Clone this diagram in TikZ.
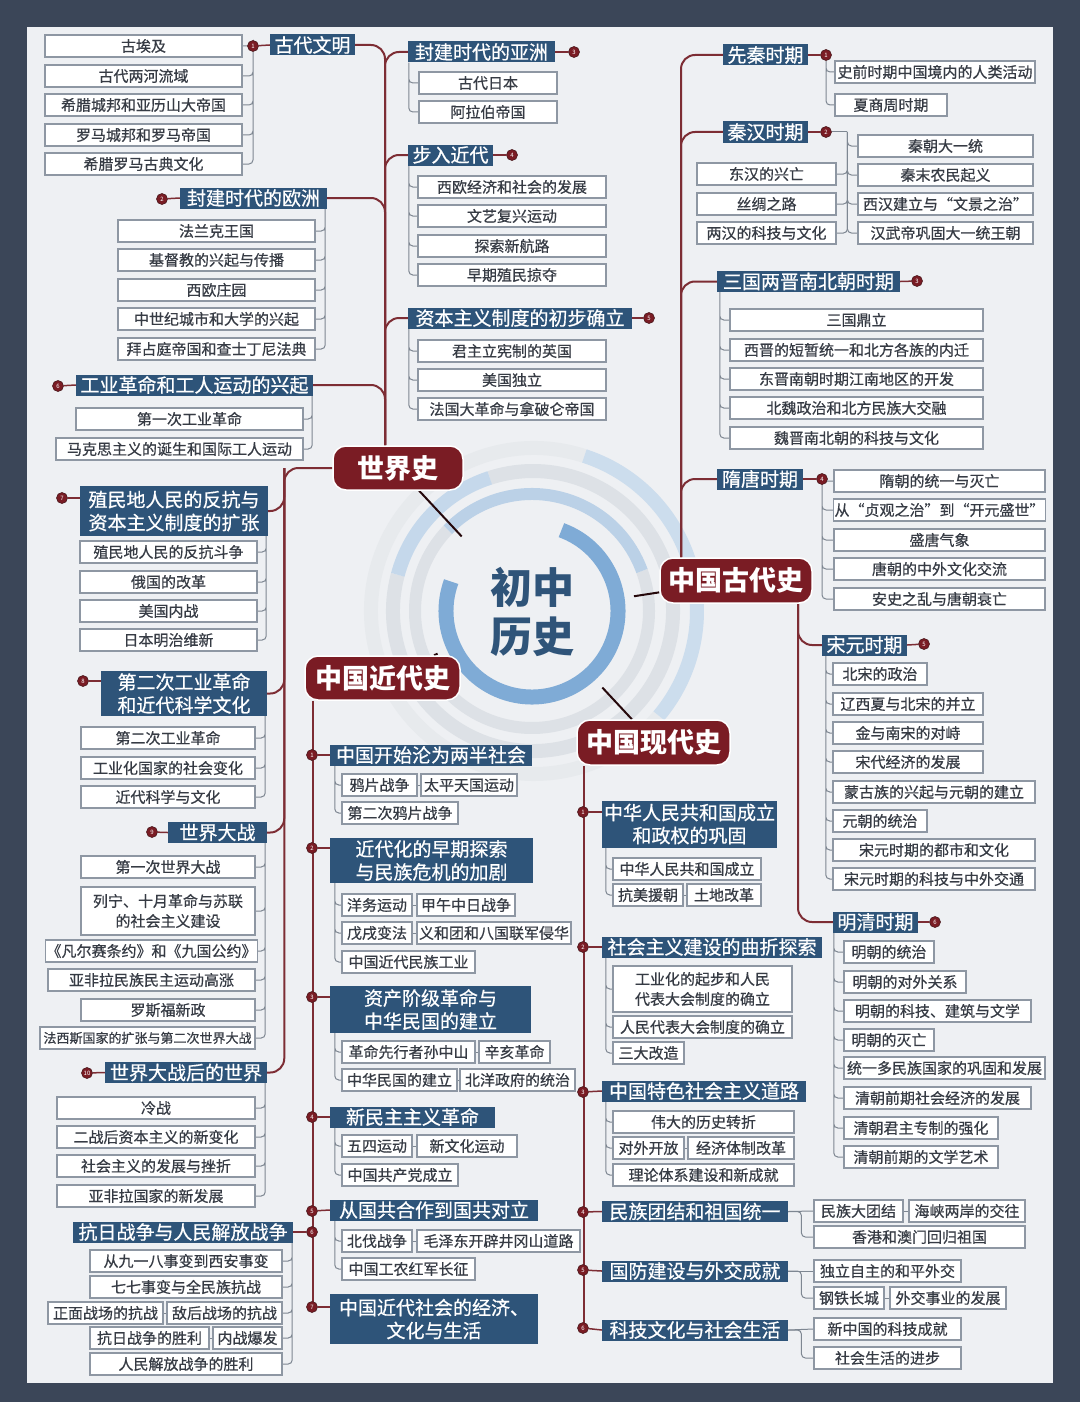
\documentclass[tikz,border=0pt]{standalone}
\usepackage{fontspec}
\setmainfont{Noto Sans CJK SC}
\newfontfamily\medium{Noto Sans CJK SC}[FakeBold=0.6]
\definecolor{slate}{HTML}{3B4658}
\definecolor{paper}{HTML}{EEF0F3}
\definecolor{hdrblue}{HTML}{2E5479}
\definecolor{leafline}{HTML}{8E97A3}
\definecolor{leaftext}{HTML}{363B44}
\definecolor{topicred}{HTML}{7A1C24}
\definecolor{trunkred}{HTML}{7D2D34}
\definecolor{twiggray}{HTML}{7E8792}
\definecolor{coreblue}{HTML}{2F5479}
\definecolor{ringblue}{HTML}{7FABD6}
\definecolor{ringpale}{HTML}{BBD1E7}
\definecolor{ringgray}{HTML}{DDE1E6}
\pgfdeclarelayer{paperlayer}
\pgfdeclarelayer{links}
\pgfsetlayers{paperlayer,links,main}
\tikzset{
  leaf/.style={draw=leafline, fill=white, text=leaftext, line width=1.2pt, inner xsep=1pt, inner ysep=1pt,
    minimum height=22pt, align=center, font=\medium\fontsize{15}{20}\selectfont},
  head/.style={fill=hdrblue, text=white, inner xsep=2pt, inner ysep=1pt, minimum height=21pt,
    align=center, font=\medium\fontsize{19}{23}\selectfont},
  topic/.style={fill=topicred, draw=white, line width=1.5pt, rounded corners=13pt, text=white,
    minimum height=44pt, font=\fontsize{27}{30}\selectfont\bfseries},
  core/.style={circle, minimum size=206pt, inner sep=0pt, align=center, text=coreblue,
    font=\fontsize{42}{49}\selectfont\bfseries},
  num/.style={circle, fill=topicred, draw=trunkred!60!black, line width=0.6pt, inner sep=0pt,
    minimum size=11pt, text=white, font=\fontsize{6}{6}\selectfont},
  trunk/.style={draw=trunkred, line width=2pt, rounded corners=14pt},
  tie/.style={draw=trunkred, line width=1.5pt},
  twig/.style={draw=twiggray, line width=1pt, rounded corners=4pt},
  stem/.style={draw=black!70!topicred, line width=2pt}
}
\begin{document}
\begin{tikzpicture}[x=1pt,y=-1pt]
\useasboundingbox (0,0) rectangle (1080,1402);

\begin{pgfonlayer}{paperlayer}
\fill[slate] (0,0) rectangle (1080,1402);
\fill[paper] (27,27) rectangle (1053,1383);
% rings round the centre
\draw[line width=14pt, ringgray!70!white] (534,611) ++(72:163pt) arc[start angle=72, end angle=320, radius=163pt];
\draw[line width=14pt, ringpale!75!white] (534,611) ++(-40:163pt) arc[start angle=-40, end angle=72, radius=163pt];
\draw[line width=14pt, ringgray] (533,611) ++(165:140pt) arc[start angle=165, end angle=468, radius=140pt];
\draw[line width=14pt, ringpale!85!white] (533,611) ++(108:140pt) arc[start angle=108, end angle=165, radius=140pt];
\draw[line width=12pt, ringgray] (532,611) ++(136:117pt) arc[start angle=136, end angle=380, radius=117pt];
\draw[line width=12pt, ringpale] (532,611) ++(20:117pt) arc[start angle=20, end angle=136, radius=117pt];
\draw[line width=15pt, ringblue] (532,611) ++(160:86pt) arc[start angle=160, end angle=430, radius=86pt];
\end{pgfonlayer}

\node[core] (core) at (532,612) {初中\\历史};

% world history
\node[topic, minimum width=130pt] (ws) at (398,468) {世界史};

\node[head, minimum width=85pt] (w1) at (312.5,45) {古代文明};
\node[num] (w1n) at (253,46) {1};
\node[leaf, minimum width=197pt] (w1a) at (143.5,46) {古埃及};
\node[leaf, minimum width=197pt] (w1b) at (143.5,76) {古代两河流域};
\node[leaf, minimum width=197pt] (w1c) at (143.5,105) {希腊城邦和亚历山大帝国};
\node[leaf, minimum width=197pt] (w1d) at (143.5,135) {罗马城邦和罗马帝国};
\node[leaf, minimum width=197pt] (w1e) at (143.5,164) {希腊罗马古典文化};

\node[head, minimum width=147pt] (w2) at (253.5,198) {封建时代的欧洲};
\node[num] (w2n) at (162,199) {2};
\node[leaf, minimum width=197pt] (w2a) at (216.5,231) {法兰克王国};
\node[leaf, minimum width=197pt] (w2b) at (216.5,260) {基督教的兴起与传播};
\node[leaf, minimum width=197pt] (w2c) at (216.5,290) {西欧庄园};
\node[leaf, minimum width=197pt] (w2d) at (216.5,319) {中世纪城市和大学的兴起};
\node[leaf, minimum width=197pt] (w2e) at (216.5,349) {拜占庭帝国和查士丁尼法典};

\node[head, minimum width=147pt] (w3) at (481.5,52) {封建时代的亚洲};
\node[num] (w3n) at (574,52) {3};
\node[leaf, minimum width=138pt] (w3a) at (488,83) {古代日本};
\node[leaf, minimum width=138pt] (w3b) at (488,112) {阿拉伯帝国};

\node[head, minimum width=85pt] (w4) at (450.5,155) {步入近代};
\node[num] (w4n) at (512,155) {4};
\node[leaf, minimum width=188pt] (w4a) at (512,187) {西欧经济和社会的发展};
\node[leaf, minimum width=188pt] (w4b) at (512,216) {文艺复兴运动};
\node[leaf, minimum width=188pt] (w4c) at (512,246) {探索新航路};
\node[leaf, minimum width=188pt] (w4d) at (512,275) {早期殖民掠夺};

\node[head, minimum width=224pt] (w5) at (520,318) {资本主义制度的初步确立};
\node[num] (w5n) at (649,318) {5};
\node[leaf, minimum width=188pt] (w5a) at (512,351) {君主立宪制的英国};
\node[leaf, minimum width=188pt] (w5b) at (512,380) {美国独立};
\node[leaf, minimum width=188pt] (w5c) at (512,409) {法国大革命与拿破仑帝国};

\node[head, minimum width=237pt] (w6) at (194.5,385) {工业革命和工人运动的兴起};
\node[num] (w6n) at (58,386) {6};
\node[leaf, minimum width=227pt] (w6a) at (189.5,419) {第一次工业革命};
\node[leaf, minimum width=247pt] (w6b) at (179.5,449) {马克思主义的诞生和国际工人运动};

\node[head, minimum width=188pt, minimum height=50pt] (w7) at (174,511) {殖民地人民的反抗与\\资本主义制度的扩张};
\node[num] (w7n) at (62,498) {7};
\node[leaf, minimum width=177pt] (w7a) at (168.5,552) {殖民地人民的反抗斗争};
\node[leaf, minimum width=177pt] (w7b) at (168.5,582) {俄国的改革};
\node[leaf, minimum width=177pt] (w7c) at (168.5,611) {美国内战};
\node[leaf, minimum width=177pt] (w7d) at (168.5,640) {日本明治维新};

\node[head, minimum width=166pt, minimum height=45pt] (w8) at (184,693.5) {第二次工业革命\\和近代科学文化};
\node[num] (w8n) at (83,681) {8};
\node[leaf, minimum width=174pt] (w8a) at (168,738) {第二次工业革命};
\node[leaf, minimum width=174pt] (w8b) at (168,768) {工业化国家的社会变化};
\node[leaf, minimum width=174pt] (w8c) at (168,797) {近代科学与文化};

\node[head, minimum width=99pt] (w9) at (217.5,832.5) {世界大战};
\node[num] (w9n) at (152,832) {9};
\node[leaf, minimum width=174pt] (w9a) at (168,867) {第一次世界大战};
\node[leaf, minimum width=174pt, minimum height=48pt] (w9b) at (168,911) {列宁、十月革命与苏联\\的社会主义建设};
\node[leaf, minimum width=207pt] (w9c) at (151.5,951) {《凡尔赛条约》和《九国公约》};
\node[leaf, minimum width=207pt] (w9d) at (151.5,980) {亚非拉民族民主运动高涨};
\node[leaf, minimum width=174pt] (w9e) at (168,1010) {罗斯福新政};
\node[leaf, minimum width=215pt, font=\medium\fontsize{13}{15}\selectfont] (w9f) at (147.5,1038) {法西斯国家的扩张与第二次世界大战};

\node[head, minimum width=162pt] (w10) at (186,1072.5) {世界大战后的世界};
\node[num] (w10n) at (87,1073) {10};
\node[leaf, minimum width=198pt] (w10a) at (156,1108) {冷战};
\node[leaf, minimum width=198pt] (w10b) at (156,1137) {二战后资本主义的新变化};
\node[leaf, minimum width=198pt] (w10c) at (156,1166) {社会主义的发展与挫折};
\node[leaf, minimum width=198pt] (w10d) at (156,1196) {亚非拉国家的新发展};

% chinese ancient history
\node[topic, minimum width=152pt, minimum height=45pt] (ca) at (736,580.5) {中国古代史};

\node[head, minimum width=85pt] (a1) at (765.5,55) {先秦时期};
\node[num] (a1n) at (826,55) {1};
\node[leaf, minimum width=200pt] (a1a) at (935,72) {史前时期中国境内的人类活动};
\node[leaf, minimum width=112pt] (a1b) at (891,105) {夏商周时期};

\node[head, minimum width=85pt] (a2) at (765.5,132) {秦汉时期};
\node[num] (a2n) at (826,132) {2};
\node[leaf, minimum width=175pt] (a2a) at (945.5,146) {秦朝大一统};
\node[leaf, minimum width=175pt] (a2b) at (945.5,175) {秦末农民起义};
\node[leaf, minimum width=175pt] (a2c) at (945.5,204) {西汉建立与“文景之治”};
\node[leaf, minimum width=175pt] (a2d) at (945.5,233) {汉武帝巩固大一统王朝};
\node[leaf, minimum width=139pt] (a2e) at (766.5,174) {东汉的兴亡};
\node[leaf, minimum width=139pt] (a2f) at (766.5,204) {丝绸之路};
\node[leaf, minimum width=139pt] (a2g) at (766.5,233) {两汉的科技与文化};

\node[head, minimum width=183pt] (a3) at (808.5,281.5) {三国两晋南北朝时期};
\node[num] (a3n) at (917,281) {3};
\node[leaf, minimum width=253pt] (a3a) at (856.5,320) {三国鼎立};
\node[leaf, minimum width=253pt] (a3b) at (856.5,350) {西晋的短暂统一和北方各族的内迁};
\node[leaf, minimum width=253pt] (a3c) at (856.5,379) {东晋南朝时期江南地区的开发};
\node[leaf, minimum width=253pt] (a3d) at (856.5,408) {北魏政治和北方民族大交融};
\node[leaf, minimum width=253pt] (a3e) at (856.5,438) {魏晋南北朝的科技与文化};

\node[head, minimum width=86pt] (a4) at (760,479) {隋唐时期};
\node[num] (a4n) at (822,479) {4};
\node[leaf, minimum width=211pt] (a4a) at (939.5,481) {隋朝的统一与灭亡};
\node[leaf, minimum width=211pt] (a4b) at (939.5,510) {从“贞观之治”到“开元盛世”};
\node[leaf, minimum width=211pt] (a4c) at (939.5,540) {盛唐气象};
\node[leaf, minimum width=211pt] (a4d) at (939.5,569) {唐朝的中外文化交流};
\node[leaf, minimum width=211pt] (a4e) at (939.5,599) {安史之乱与唐朝衰亡};

\node[head, minimum width=85pt] (a5) at (864.5,645) {宋元时期};
\node[num] (a5n) at (924,644) {5};
\node[leaf, minimum width=94pt] (a5a) at (880,674) {北宋的政治};
\node[leaf, minimum width=150pt] (a5b) at (908,704) {辽西夏与北宋的并立};
\node[leaf, minimum width=150pt] (a5c) at (908,733) {金与南宋的对峙};
\node[leaf, minimum width=150pt] (a5d) at (908,762) {宋代经济的发展};
\node[leaf, minimum width=202pt] (a5e) at (934,792) {蒙古族的兴起与元朝的建立};
\node[leaf, minimum width=94pt] (a5f) at (880,821) {元朝的统治};
\node[leaf, minimum width=202pt] (a5g) at (934,850) {宋元时期的都市和文化};
\node[leaf, minimum width=202pt] (a5h) at (934,879) {宋元时期的科技与中外交通};

\node[head, minimum width=85pt] (a6) at (875.5,922) {明清时期};
\node[num] (a6n) at (935,922) {6};
\node[leaf, minimum width=90pt] (a6a) at (889,952) {明朝的统治};
\node[leaf, minimum width=122pt] (a6b) at (905,982) {明朝的对外关系};
\node[leaf, minimum width=187pt] (a6c) at (937.5,1011) {明朝的科技、建筑与文学};
\node[leaf, minimum width=90pt] (a6d) at (889,1040) {明朝的灭亡};
\node[leaf, minimum width=201pt] (a6e) at (944.5,1068) {统一多民族国家的巩固和发展};
\node[leaf, minimum width=187pt] (a6f) at (937.5,1098) {清朝前期社会经济的发展};
\node[leaf, minimum width=154pt] (a6g) at (921,1128) {清朝君主专制的强化};
\node[leaf, minimum width=154pt] (a6h) at (921,1157) {清朝前期的文学艺术};

% chinese modern history
\node[topic, minimum width=155pt] (cj) at (382.5,678) {中国近代史};

\node[head, minimum width=202pt] (j1) at (431,755) {中国开始沦为两半社会};
\node[num] (j1n) at (312,755) {1};
\node[leaf, minimum width=75pt] (j1a) at (379.5,785) {鸦片战争};
\node[leaf, minimum width=96pt] (j1b) at (469,785) {太平天国运动};
\node[leaf, minimum width=116pt] (j1c) at (400,813) {第二次鸦片战争};

\node[head, minimum width=203pt, minimum height=45pt] (j2) at (431.5,860.5) {近代化的早期探索\\与民族危机的加剧};
\node[num] (j2n) at (312,848) {2};
\node[leaf, minimum width=70pt] (j2a) at (377,905) {洋务运动};
\node[leaf, minimum width=98pt] (j2b) at (466,905) {甲午中日战争};
\node[leaf, minimum width=70pt] (j2c) at (377,933) {戊戌变法};
\node[leaf, minimum width=154pt] (j2d) at (494,933) {义和团和八国联军侵华};
\node[leaf, minimum width=133pt] (j2e) at (408.5,962) {中国近代民族工业};

\node[head, minimum width=201pt, minimum height=47pt] (j3) at (430.5,1009.5) {资产阶级革命与\\中华民国的建立};
\node[num] (j3n) at (312,997) {3};
\node[leaf, minimum width=133pt] (j3a) at (408.5,1052) {革命先行者孙中山};
\node[leaf, minimum width=71pt] (j3b) at (514.5,1052) {辛亥革命};
\node[leaf, minimum width=115pt] (j3c) at (399.5,1080) {中华民国的建立};
\node[leaf, minimum width=115pt] (j3d) at (517.5,1080) {北洋政府的统治};

\node[head, minimum width=165pt] (j4) at (412.5,1117) {新民主主义革命};
\node[num] (j4n) at (312,1117) {4};
\node[leaf, minimum width=70pt] (j4a) at (377,1146) {五四运动};
\node[leaf, minimum width=100pt] (j4b) at (467,1146) {新文化运动};
\node[leaf, minimum width=116pt] (j4c) at (400,1175) {中国共产党成立};

\node[head, minimum width=208pt] (j5) at (434,1210) {从国共合作到国共对立};
\node[num] (j5n) at (312,1211) {5};
\node[leaf, minimum width=70pt] (j5a) at (377,1241) {北伐战争};
\node[leaf, minimum width=163pt] (j5b) at (498.5,1241) {毛泽东开辟井冈山道路};
\node[leaf, minimum width=133pt] (j5c) at (408.5,1269) {中国工农红军长征};

\node[head, minimum width=220pt] (j6) at (183,1232) {抗日战争与人民解放战争};
\node[num] (j6n) at (312,1232) {6};
\node[leaf, minimum width=192pt] (j6a) at (186,1261) {从九一八事变到西安事变};
\node[leaf, minimum width=192pt] (j6b) at (186,1287) {七七事变与全民族抗战};
\node[leaf, minimum width=115pt] (j6c) at (105.5,1313) {正面战场的抗战};
\node[leaf, minimum width=115pt] (j6d) at (224.5,1313) {敌后战场的抗战};
\node[leaf, minimum width=119pt] (j6e) at (149.5,1338) {抗日战争的胜利};
\node[leaf, minimum width=69pt] (j6f) at (247.5,1338) {内战爆发};
\node[leaf, minimum width=192pt] (j6g) at (186,1364) {人民解放战争的胜利};

\node[head, minimum width=208pt, minimum height=50pt] (j7) at (434,1319) {中国近代社会的经济、\\文化与生活};
\node[num] (j7n) at (312,1307) {7};

% chinese contemporary history
\node[topic, minimum width=153pt, minimum height=45pt] (cx) at (653.5,742.5) {中国现代史};

\node[head, minimum width=175pt, minimum height=47pt] (x1) at (689.5,824) {中华人民共和国成立\\和政权的巩固};
\node[num] (x1n) at (583,812) {1};
\node[leaf, minimum width=148pt] (x1a) at (687,869) {中华人民共和国成立};
\node[leaf, minimum width=70pt] (x1b) at (648,895) {抗美援朝};
\node[leaf, minimum width=74pt] (x1c) at (724,895) {土地改革};

\node[head, minimum width=220pt] (x2) at (712,947) {社会主义建设的曲折探索};
\node[num] (x2n) at (583,947) {2};
\node[leaf, minimum width=179pt, minimum height=46pt] (x2a) at (702.5,989) {工业化的起步和人民\\代表大会制度的确立};
\node[leaf, minimum width=179pt] (x2b) at (702.5,1027) {人民代表大会制度的确立};
\node[leaf, minimum width=71pt] (x2c) at (648.5,1053) {三大改造};

\node[head, minimum width=204pt] (x3) at (704,1091) {中国特色社会主义道路};
\node[num] (x3n) at (583,1092) {3};
\node[leaf, minimum width=181pt] (x3a) at (703.5,1122) {伟大的历史转折};
\node[leaf, minimum width=71pt] (x3b) at (648.5,1148) {对外开放};
\node[leaf, minimum width=106pt] (x3c) at (741,1148) {经济体制改革};
\node[leaf, minimum width=181pt] (x3d) at (703.5,1175) {理论体系建设和新成就};

\node[head, minimum width=186pt] (x4) at (695,1211.5) {民族团结和祖国统一};
\node[num] (x4n) at (583,1212) {4};
\node[leaf, minimum width=89pt] (x4a) at (858.5,1211) {民族大团结};
\node[leaf, minimum width=116pt] (x4b) at (967,1211) {海峡两岸的交往};
\node[leaf, minimum width=211pt] (x4c) at (919.5,1237) {香港和澳门回归祖国};

\node[head, minimum width=186pt] (x5) at (695,1271) {国防建设与外交成就};
\node[num] (x5n) at (583,1270) {5};
\node[leaf, minimum width=147pt] (x5a) at (887.5,1271) {独立自主的和平外交};
\node[leaf, minimum width=70pt] (x5b) at (849,1298) {钢铁长城};
\node[leaf, minimum width=116pt] (x5c) at (948,1298) {外交事业的发展};

\node[head, minimum width=186pt] (x6) at (695,1330) {科技文化与社会生活};
\node[num] (x6n) at (583,1328) {6};
\node[leaf, minimum width=147pt] (x6a) at (887.5,1329) {新中国的科技成就};
\node[leaf, minimum width=147pt] (x6b) at (887.5,1358) {社会生活的进步};

% trunk points
\coordinate (wup) at ([xshift=-13pt]ws.north);
\coordinate (wlow) at ([xshift=-48pt]ws.west);
\coordinate (aup) at ([xshift=-55pt]ca.north);
\coordinate (alow) at ([xshift=62pt]ca.south);
\coordinate (jlow) at ([xshift=-70pt]cj.south);
\coordinate (xlow) at ([xshift=-70pt]cx.south);
% twig points
\coordinate (w2t) at ([xshift=-2pt]w2.south east);
\coordinate (w3t) at ([xshift=1pt]w3.south west);
\coordinate (w4t) at ([xshift=1pt]w4.south west);
\coordinate (w5t) at ([xshift=1pt]w5.south west);
\coordinate (w6t) at ([xshift=-1pt]w6.south east);
\coordinate (w7t) at ([xshift=-2pt]w7.south east);
\coordinate (w8t) at ([xshift=-2pt]w8.south east);
\coordinate (w9t) at ([xshift=-2pt]w9.south east);
\coordinate (w10t) at ([xshift=-2pt]w10.south east);
\coordinate (a2t) at ([xshift=-10pt]a2a.west |- a2n);
\coordinate (a3t) at ([xshift=3pt]a3.south west);
\coordinate (a5t) at ([xshift=4pt]a5.south west);
\coordinate (a6t) at ([xshift=1pt]a6.south west);
\coordinate (j1t) at ([xshift=5pt]j1.south west);
\coordinate (j2t) at ([xshift=5pt]j2.south west);
\coordinate (j3t) at ([xshift=5pt]j3.south west);
\coordinate (j4t) at ([xshift=5pt]j4.south west);
\coordinate (j5t) at ([xshift=5pt]j5.south west);
\coordinate (j6t) at ([xshift=-1pt]j6.south east);
\coordinate (x1t) at ([xshift=4pt]x1.south west);
\coordinate (x2t) at ([xshift=4pt]x2.south west);
\coordinate (x3t) at ([xshift=4pt]x3.south west);

\begin{pgfonlayer}{links}
\draw[stem] (ws) -- (core);
\draw[stem] (ca) -- (core);
\draw[stem] (cj) -- (core);
\draw[stem] (cx) -- (core);

% world trunk
\draw[trunk] (wup) |- (w1.east);
\draw[trunk] (w2.east) -| (wup);
\draw[trunk] (w6.east) -| (wup);
\draw[trunk] (w3.west) -| (wup);
\draw[trunk] (w4.west) -| (wup);
\draw[trunk] (w5.west) -| (wup);
\draw[trunk] (ws.west) -- (wlow) |- (w10.east);
\draw[trunk] (w7.east) -| (wlow);
\draw[trunk] (w8.east) -| (wlow);
\draw[trunk] (w9.east) -| (wlow);
\draw[tie] (w1n) -- (w1.west);
\draw[tie] (w2n) -- (w2.west);
\draw[tie] (w3.east) -- (w3n);
\draw[tie] (w4.east) -- (w4n);
\draw[tie] (w5.east) -- (w5n);
\draw[tie] (w6n) -- (w6.west);
\draw[tie] (w7n) -- (w7n -| w7.west);
\draw[tie] (w8n) -- (w8n -| w8.west);
\draw[tie] (w9n) -- (w9.west);
\draw[tie] (w10n) -- (w10.west);

% ancient trunk
\draw[trunk] (aup) |- (a1.west);
\draw[trunk] (a2.west) -| (aup);
\draw[trunk] (a3.west) -| (aup);
\draw[trunk] (a4.west) -| (aup);
\draw[trunk] (alow) |- (a6.west);
\draw[trunk] (a5.west) -| (alow);
\draw[tie] (a1.east) -- (a1n);
\draw[tie] (a2.east) -- (a2n);
\draw[tie] (a3.east) -- (a3n);
\draw[tie] (a4.east) -- (a4n);
\draw[tie] (a5.east) -- (a5n);
\draw[tie] (a6.east) -- (a6n);

% modern trunks
\draw[trunk] (jlow) -- (jlow |- j7n);
\draw[tie] (j1n) -- (j1.west);
\draw[tie] (j2n) -- (j2n -| j2.west);
\draw[tie] (j3n) -- (j3n -| j3.west);
\draw[tie] (j4n) -- (j4.west);
\draw[tie] (j5n) -- (j5.west);
\draw[tie] (j6n) -- (j6.east);
\draw[tie] (j7n) -- (j7n -| j7.west);
\draw[trunk] (xlow) -- (xlow |- x6n);
\draw[tie] (x1n) -- (x1n -| x1.west);
\draw[tie] (x2n) -- (x2.west);
\draw[tie] (x3n) -- (x3.west);
\draw[tie] (x4n) -- (x4.west);
\draw[tie] (x5n) -- (x5.west);
\draw[tie] (x6n) -- (x6.west);

% twigs
\draw[twig] (w1n) |- (w1a.east) (w1n) |- (w1b.east) (w1n) |- (w1c.east) (w1n) |- (w1d.east) (w1n) |- (w1e.east);
\draw[twig] (w2t) |- (w2a.east) (w2t) |- (w2b.east) (w2t) |- (w2c.east) (w2t) |- (w2d.east) (w2t) |- (w2e.east);
\draw[twig] (w3t) |- (w3a.west) (w3t) |- (w3b.west);
\draw[twig] (w4t) |- (w4a.west) (w4t) |- (w4b.west) (w4t) |- (w4c.west) (w4t) |- (w4d.west);
\draw[twig] (w5t) |- (w5a.west) (w5t) |- (w5b.west) (w5t) |- (w5c.west);
\draw[twig] (w6t) |- (w6a.east) (w6t) |- (w6b.east);
\draw[twig] (w7t) |- (w7a.east) (w7t) |- (w7b.east) (w7t) |- (w7c.east) (w7t) |- (w7d.east);
\draw[twig] (w8t) |- (w8a.east) (w8t) |- (w8b.east) (w8t) |- (w8c.east);
\draw[twig] (w9t) |- (w9a.east) (w9t) |- (w9b.east) (w9t) |- (w9c.east) (w9t) |- (w9d.east) (w9t) |- (w9e.east) (w9t) |- (w9f.east);
\draw[twig] (w10t) |- (w10a.east) (w10t) |- (w10b.east) (w10t) |- (w10c.east) (w10t) |- (w10d.east);

\draw[twig] (a1n) |- (a1a.west) (a1n) |- (a1b.west);
\draw[twig] (a2n) -- (a2t);
\draw[twig] (a2t) |- (a2a.west) (a2t) |- (a2b.west) (a2t) |- (a2c.west) (a2t) |- (a2d.west);
\draw[twig] (a2t) |- (a2e.east) (a2t) |- (a2f.east) (a2t) |- (a2g.east);
\draw[twig] (a3t) |- (a3a.west) (a3t) |- (a3b.west) (a3t) |- (a3c.west) (a3t) |- (a3d.west) (a3t) |- (a3e.west);
\draw[twig] (a4n) |- (a4a.west) (a4n) |- (a4b.west) (a4n) |- (a4c.west) (a4n) |- (a4d.west) (a4n) |- (a4e.west);
\draw[twig] (a5t) |- (a5a.west) (a5t) |- (a5b.west) (a5t) |- (a5c.west) (a5t) |- (a5d.west)
  (a5t) |- (a5e.west) (a5t) |- (a5f.west) (a5t) |- (a5g.west) (a5t) |- (a5h.west);
\draw[twig] (a6t) |- (a6a.west) (a6t) |- (a6b.west) (a6t) |- (a6c.west) (a6t) |- (a6d.west)
  (a6t) |- (a6e.west) (a6t) |- (a6f.west) (a6t) |- (a6g.west) (a6t) |- (a6h.west);

\draw[twig] (j1t) |- (j1a.west) (j1t) |- (j1c.west);
\draw[twig] (j2t) |- (j2a.west) (j2t) |- (j2c.west) (j2t) |- (j2e.west);
\draw[twig] (j3t) |- (j3a.west) (j3t) |- (j3c.west);
\draw[twig] (j4t) |- (j4a.west) (j4t) |- (j4c.west);
\draw[twig] (j5t) |- (j5a.west) (j5t) |- (j5c.west);
\draw[twig] (j6t) |- (j6a.east) (j6t) |- (j6b.east) (j6t) |- (j6d.east) (j6t) |- (j6f.east) (j6t) |- (j6g.east);
\draw[twig] (j1a.east) -- (j1b.west);
\draw[twig] (j2a.east) -- (j2b.west);
\draw[twig] (j2c.east) -- (j2d.west);
\draw[twig] (j3a.east) -- (j3b.west);
\draw[twig] (j3c.east) -- (j3d.west);
\draw[twig] (j4a.east) -- (j4b.west);
\draw[twig] (j5a.east) -- (j5b.west);
\draw[twig] (j6c.east) -- (j6d.west);
\draw[twig] (j6e.east) -- (j6f.west);

\draw[twig] (x1t) |- (x1a.west) (x1t) |- (x1b.west);
\draw[twig] (x2t) |- (x2a.west) (x2t) |- (x2b.west) (x2t) |- (x2c.west);
\draw[twig] (x3t) |- (x3a.west) (x3t) |- (x3b.west) (x3t) |- (x3d.west);
\draw[twig] (x1b.east) -- (x1c.west);
\draw[twig] (x3b.east) -- (x3c.west);
\draw[twig] (x4.east) -- (x4a.west);
\draw[twig] (x4.east) -| ([xshift=-12pt]x4c.west) -- (x4c.west);
\draw[twig] (x4a.east) -- (x4b.west);
\draw[twig] (x5.east) -- (x5a.west);
\draw[twig] (x5.east) -| ([xshift=-12pt]x5b.west) -- (x5b.west);
\draw[twig] (x5b.east) -- (x5c.west);
\draw[twig] (x6.east) -- (x6a.west);
\draw[twig] (x6.east) -| ([xshift=-12pt]x6b.west) -- (x6b.west);
\end{pgfonlayer}

\end{tikzpicture}
\end{document}
